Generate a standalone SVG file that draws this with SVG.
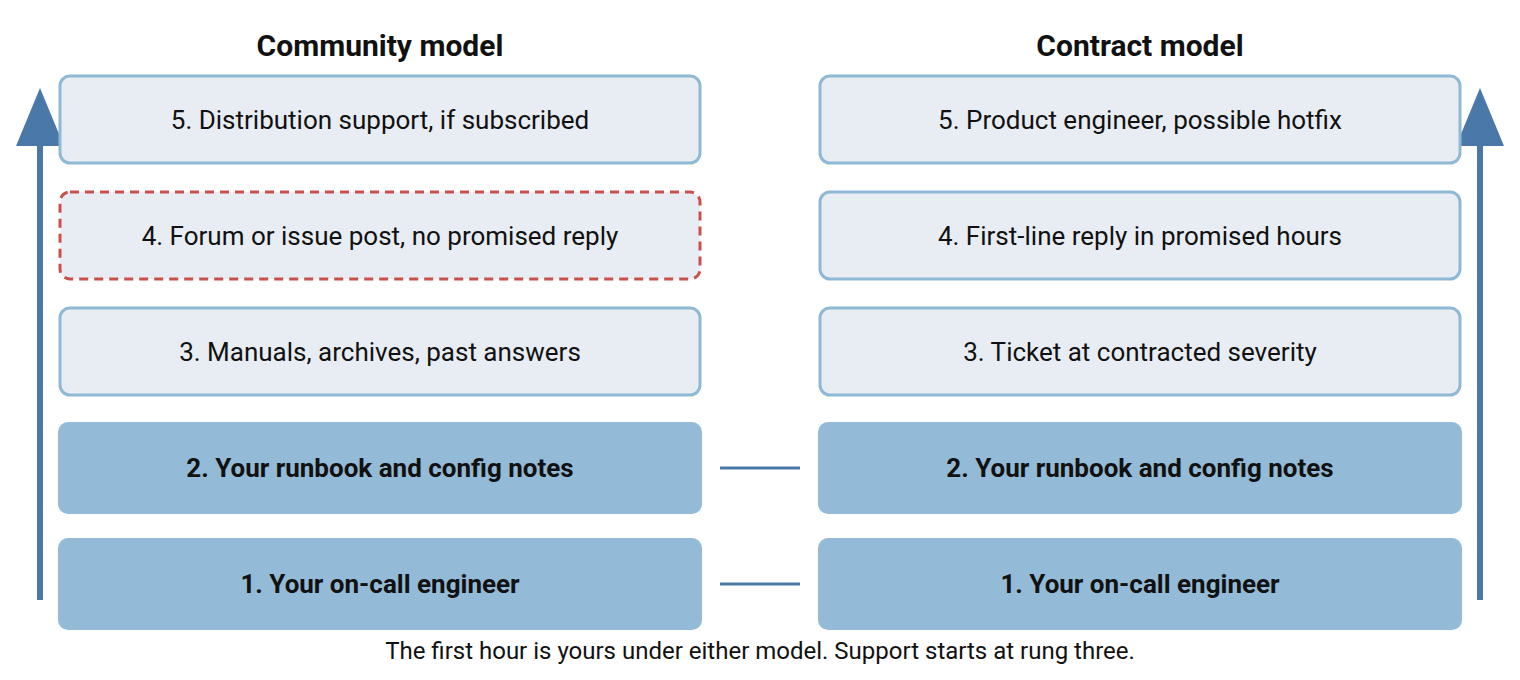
<svg xmlns="http://www.w3.org/2000/svg" width="1520" height="680" viewBox="0 0 1520 680">
<style>
text{font-family:Roboto,"Liberation Sans",sans-serif;fill:#111;text-anchor:middle}
.t{font-size:30px;font-weight:bold}
.l{font-size:26px}
.b{font-size:26px;font-weight:bold}
.lt{fill:#e8edf4;stroke:#8fb8d5;stroke-width:3}
.dk{fill:#93bad6}
.ds{fill:#e8edf4;stroke:#c9504c;stroke-width:3;stroke-dasharray:9 6}
.c{stroke:#4a78a8;stroke-width:3}
</style>
<rect width="1520" height="680" fill="#fff"/>
<text class="t" x="380" y="56">Community model</text>
<text class="t" x="1140" y="56">Contract model</text>
<g id="arrows" fill="#4a78a8">
<rect x="37" y="140" width="6" height="460"/>
<polygon points="40,88 16,146 64,146"/>
<rect x="1477" y="140" width="6" height="460"/>
<polygon points="1480,88 1456,146 1504,146"/>
</g>
<g id="connectors"><line class="c" x1="720" y1="468" x2="800" y2="468"/><line class="c" x1="720" y1="584" x2="800" y2="584"/></g>
<g id="l5"><rect class="lt" x="60" y="76" width="640" height="87" rx="10"/><text class="l" x="380" y="129">5. Distribution support, if subscribed</text></g>
<g id="l4"><rect class="ds" x="60" y="192" width="640" height="87" rx="10"/><text class="l" x="380" y="245">4. Forum or issue post, no promised reply</text></g>
<g id="l3"><rect class="lt" x="60" y="308" width="640" height="87" rx="10"/><text class="l" x="380" y="361">3. Manuals, archives, past answers</text></g>
<g id="l2"><rect class="dk" x="58" y="422" width="644" height="92" rx="10"/><text class="b" x="380" y="477">2. Your runbook and config notes</text></g>
<g id="l1"><rect class="dk" x="58" y="538" width="644" height="92" rx="10"/><text class="b" x="380" y="593">1. Your on-call engineer</text></g>
<g id="r5"><rect class="lt" x="820" y="76" width="640" height="87" rx="10"/><text class="l" x="1140" y="129">5. Product engineer, possible hotfix</text></g>
<g id="r4"><rect class="lt" x="820" y="192" width="640" height="87" rx="10"/><text class="l" x="1140" y="245">4. First-line reply in promised hours</text></g>
<g id="r3"><rect class="lt" x="820" y="308" width="640" height="87" rx="10"/><text class="l" x="1140" y="361">3. Ticket at contracted severity</text></g>
<g id="r2"><rect class="dk" x="818" y="422" width="644" height="92" rx="10"/><text class="b" x="1140" y="477">2. Your runbook and config notes</text></g>
<g id="r1"><rect class="dk" x="818" y="538" width="644" height="92" rx="10"/><text class="b" x="1140" y="593">1. Your on-call engineer</text></g>
<text class="l" x="760" y="659" style="font-size:24px">The first hour is yours under either model. Support starts at rung three.</text>
</svg>
